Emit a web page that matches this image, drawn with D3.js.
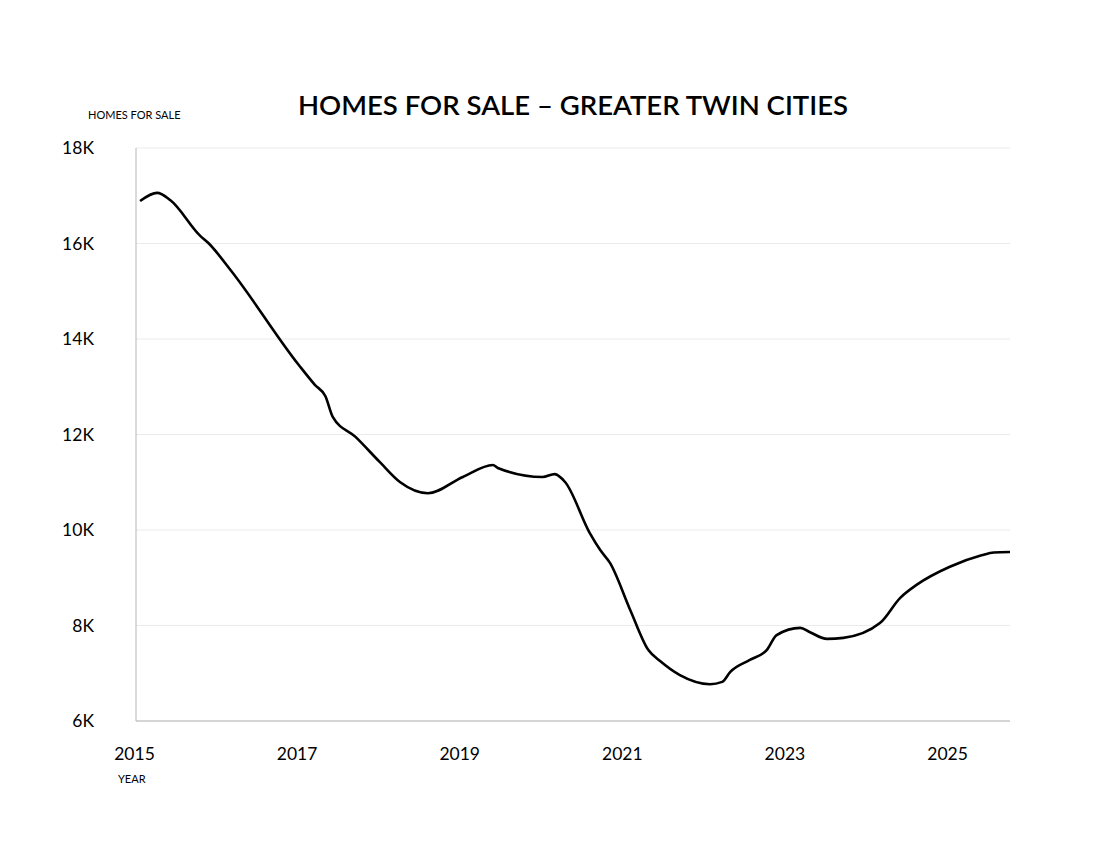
<!DOCTYPE html>
<html>
<head>
<meta charset="utf-8">
<script src="https://cdn.jsdelivr.net/npm/d3@7"></script>
<style>
  body { margin: 0; background: #fff; }
  text { font-family: Lato, "Open Sans", sans-serif; fill: #000; }
</style>
</head>
<body>
<div id="chart"></div>
<script>
// decimal years and homes for sale (thousands)
const years = [2015.05, 2015.26, 2015.42, 2015.79, 2015.89, 2016.16, 2017.0, 2017.2, 2017.33, 2017.42,
  2017.7, 2018.0, 2018.25, 2018.59, 2019.02, 2019.39, 2019.45, 2020.0, 2020.15, 2020.28, 2020.58,
  2020.71, 2020.83, 2021.08, 2021.3, 2021.45, 2021.69, 2022.06, 2022.21, 2022.31, 2022.55,
  2022.76, 2022.88, 2023.17, 2023.29, 2023.5, 2023.7, 2024.15, 2024.4, 2024.6, 2025.01,
  2025.4, 2025.55, 2025.75];
const homes = [16.89, 17.06, 16.91, 16.16, 16.01, 15.45, 13.46, 13.04, 12.8, 12.37,
  11.95, 11.42, 11.0, 10.77, 11.11, 11.36, 11.3, 11.11, 11.17, 11.0, 9.94,
  9.58, 9.31, 8.32, 7.49, 7.25, 6.96, 6.77, 6.82, 7.03, 7.28,
  7.49, 7.8, 7.95, 7.86, 7.72, 7.74, 8.05, 8.58, 8.85, 9.23,
  9.47, 9.53, 9.54];
const yTicks = [6, 8, 10, 12, 14, 16, 18];
const xTicks = [2015, 2017, 2019, 2021, 2023, 2025];

const data = years.map((y, i) => ({ year: y, value: homes[i] }));

const W = 1100, H = 842;
const margin = { top: 148, right: 90, bottom: 121, left: 136 };
const width = W - margin.left - margin.right;
const height = H - margin.top - margin.bottom;

const svg = d3.select("#chart")
  .append("svg")
  .attr("width", W)
  .attr("height", H);

const g = svg.append("g")
  .attr("transform", `translate(${margin.left}, ${margin.top})`);

const x = d3.scaleLinear()
  .domain([2015, 2025.75])
  .range([0, width]);

const y = d3.scaleLinear()
  .domain([6, 18])
  .range([height, 0]);

// grid
g.append("g")
  .selectAll("line")
  .data(yTicks)
  .join("line")
  .attr("x1", 0)
  .attr("x2", width)
  .attr("y1", d => y(d))
  .attr("y2", d => y(d))
  .attr("stroke", "#ebebeb")
  .attr("stroke-width", 1);

// axes lines
g.append("line")
  .attr("x1", 0).attr("x2", 0)
  .attr("y1", 0).attr("y2", height)
  .attr("stroke", "#b5b5b5");
g.append("line")
  .attr("x1", 0).attr("x2", width)
  .attr("y1", height).attr("y2", height)
  .attr("stroke", "#b5b5b5");

const yAxis = g.append("g")
  .call(d3.axisLeft(y).tickValues(yTicks).tickFormat(d => d + "K").tickSize(0).tickPadding(42));
yAxis.select(".domain").remove();
yAxis.selectAll("text").style("font-size", "17.5px");

const xAxis = g.append("g")
  .attr("transform", `translate(0, ${height})`)
  .call(d3.axisBottom(x).tickValues(xTicks).tickFormat(d3.format("d")).tickSize(0).tickPadding(27));
xAxis.select(".domain").remove();
xAxis.selectAll("text")
  .attr("dx", "-2px")
  .style("font-size", "17.5px");

// line
const line = d3.line()
  .x(d => x(d.year))
  .y(d => y(d.value))
  .curve(d3.curveMonotoneX);

g.append("path")
  .datum(data)
  .attr("fill", "none")
  .attr("stroke", "#000")
  .attr("stroke-width", 2.6)
  .attr("stroke-linejoin", "round")
  .attr("d", line);

// titles
svg.append("text")
  .attr("x", 573)
  .attr("y", 115)
  .attr("text-anchor", "middle")
  .style("font-size", "27.5px")
  .style("font-weight", "600")
  .text("HOMES FOR SALE \u2013 GREATER TWIN CITIES");

svg.append("text")
  .attr("x", 88)
  .attr("y", 119)
  .style("font-size", "11px")
  .text("HOMES FOR SALE");

svg.append("text")
  .attr("x", 118)
  .attr("y", 783)
  .style("font-size", "11px")
  .text("YEAR");
</script>
</body>
</html>
